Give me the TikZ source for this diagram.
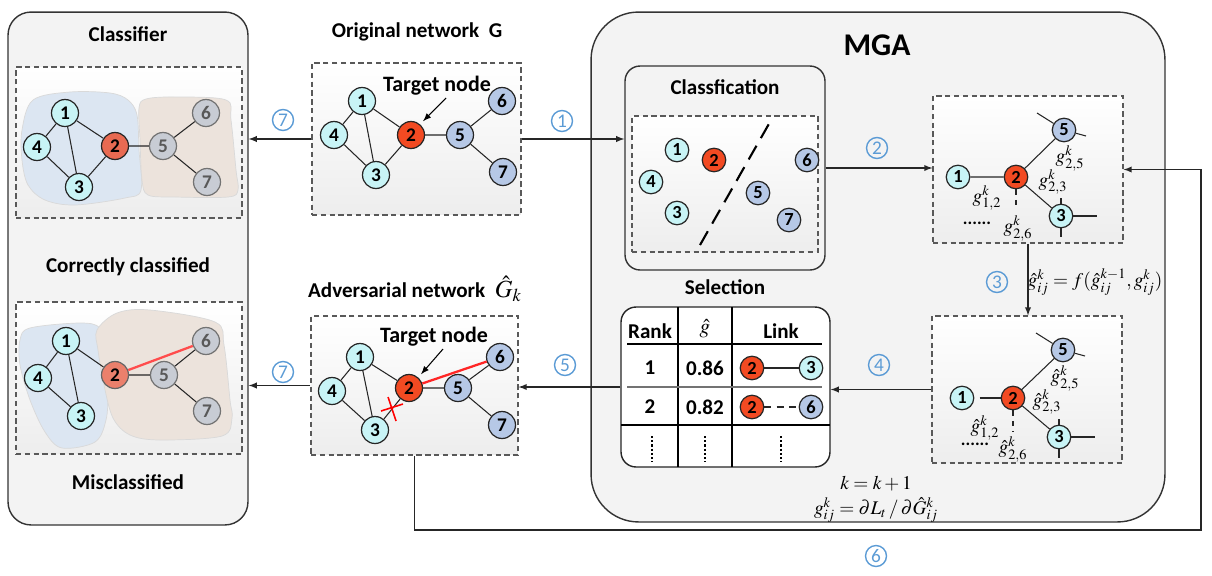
\documentclass[tikz,border=0pt]{standalone}
\usepackage[no-math]{fontspec}
\usepackage{mathptmx}
\setmainfont{Carlito}
\usetikzlibrary{positioning}

\definecolor{lightc}{HTML}{C8F4F6}
\definecolor{rednode}{HTML}{F24A22}
\definecolor{bluenode}{HTML}{B6C8E6}
\definecolor{graynode}{HTML}{C8CCD4}
\definecolor{salmon}{HTML}{E86A52}
\definecolor{blobblue}{HTML}{DCE6F2}
\definecolor{blobtan}{HTML}{ECE3DC}
\definecolor{panelfill}{HTML}{F3F3F3}
\definecolor{stepblue}{HTML}{5B9BD5}

\tikzset{
  vtx/.style={circle,draw=black!85,line width=0.7pt,minimum size=0.54cm,inner sep=0pt,
    font=\fontsize{11}{11}\selectfont\bfseries},
  smallv/.style={minimum size=0.47cm,font=\fontsize{10.5}{10.5}\selectfont\bfseries},
  grayv/.style={fill=graynode,text=black!65,draw=black!55},
  lnk/.style={line width=0.6pt,draw=black!85},
  redlnk/.style={line width=1.3pt,draw=red!85},
  panel/.style={rectangle,draw=black!80,line width=0.8pt,fill=panelfill},
  dashbox/.style={rectangle,draw=black!65,line width=0.7pt,dash pattern=on 3pt off 2pt,
    top color=white,bottom color=black!7},
  ttl/.style={font=\fontsize{12}{14}\selectfont\bfseries},
  stepno/.style={circle,draw=stepblue,text=stepblue,line width=0.8pt,inner sep=0pt,
    minimum size=0.42cm,font=\fontsize{11}{11}\selectfont},
  glabel/.style={font=\fontsize{11}{11}\selectfont},
  flow/.style={-latex,line width=0.6pt,draw=black!85}
}

\begin{document}
\begin{tikzpicture}[x=0.02cm,y=-0.02cm]
\useasboundingbox (0,0) rectangle (1212,575);

% panels and boxes
\node[panel,minimum width=4.8cm,minimum height=10.26cm,rounded corners=0.46cm] (clspanel) at (128,268.5) {};
\node[panel,minimum width=11.48cm,minimum height=10.2cm,rounded corners=0.95cm] (mgapanel) at (878,267) {};
\node[panel,minimum width=4cm,minimum height=4.08cm,rounded corners=0.3cm] (clfbox) at (725,168) {};
\node[dashbox,minimum width=4.52cm,minimum height=3.02cm] (topbox) at (129,142.5) {};
\node[dashbox,minimum width=4.52cm,minimum height=3.04cm] (botbox) at (129,378) {};
\node[dashbox,minimum width=4.18cm,minimum height=3.04cm] (origbox) at (416.5,139) {};
\node[dashbox,minimum width=4.14cm,minimum height=2.78cm] (advbox) at (414.5,385.5) {};
\node[dashbox,minimum width=3.72cm,minimum height=2.72cm] (scatbox) at (725,184) {};
\node[dashbox,minimum width=3.8cm,minimum height=2.94cm] (gradbox) at (1028,169.5) {};
\node[dashbox,minimum width=3.8cm,minimum height=2.94cm] (hatbox) at (1027,389.5) {};
\node[rectangle,draw=black!85,line width=0.8pt,fill=white,rounded corners=0.3cm,
  minimum width=4.18cm,minimum height=3.2cm] (seltab) at (725.5,387) {};

% titles
\node[ttl] (clstitle) at (128,34) {Classifier};
\node[ttl] (oktitle) at (128,267) {Correctly classified};
\node[ttl] (mistitle) at (128,482) {Misclassified};
\node[ttl] (origtitle) at (417,32) {Original network~~G};
\node[ttl] (advtitle) at (415,289) {Adversarial network~~{\fontsize{14}{14}\selectfont$\hat{G}_k$}};
\node[font=\fontsize{18}{18}\selectfont\bfseries] (mgatitle) at (877,45) {MGA};
\node[ttl] (clftitle) at (725,87) {Classfication};
\node[ttl] (seltitle) at (725,287) {Selection};

% community blobs
\fill[blobblue,draw=black!15] plot[smooth cycle,tension=0.55] coordinates {(22,130) (33,100) (70,92) (110,93) (128,100) (137,115) (139,150) (141,190) (125,198) (75,205) (45,200) (28,185) (22,160)};
\fill[blobtan,draw=black!15] plot[smooth cycle,tension=0.55] coordinates {(139,108) (146,99) (175,97) (226,100) (231,120) (236,170) (238,190) (228,197) (175,197) (148,195) (142,180) (140,140)};
\fill[blobblue,draw=black!15] plot[smooth cycle,tension=0.55] coordinates {(20,340) (30,328) (80,323) (100,328) (106,350) (108,390) (106,420) (95,442) (62,448) (45,432) (30,400) (20,365)};
\fill[blobtan,draw=black!15] plot[smooth cycle,tension=0.55] coordinates {(97,330) (117,313) (150,310) (215,322) (224,345) (230,400) (232,418) (222,436) (160,440) (130,435) (113,418) (104,385) (98,350)};

% classifier: correctly classified
\node[vtx,fill=lightc] (c1) at (65,113) {1};
\node[vtx,fill=lightc] (c4) at (37,147) {4};
\node[vtx,fill=lightc] (c3) at (79,187) {3};
\node[vtx,fill=salmon] (c2) at (115,146) {2};
\node[vtx,grayv] (c5) at (163,146) {5};
\node[vtx,grayv] (c6) at (206,113) {6};
\node[vtx,grayv] (c7) at (207,182) {7};
\draw[lnk] (c1)--(c4) (c1)--(c3) (c1)--(c2) (c4)--(c3) (c3)--(c2) (c2)--(c5) (c5)--(c6) (c5)--(c7);

% classifier: misclassified
\node[vtx,fill=lightc] (m1) at (66,341) {1};
\node[vtx,fill=lightc] (m4) at (38,378) {4};
\node[vtx,fill=lightc] (m3) at (81,416) {3};
\node[vtx,fill=salmon!85,draw=black!60] (m2) at (115,375) {2};
\node[vtx,grayv] (m5) at (164,375) {5};
\node[vtx,grayv] (m6) at (206,341) {6};
\node[vtx,grayv] (m7) at (207,411) {7};
\draw[lnk] (m1)--(m4) (m1)--(m3) (m1)--(m2) (m4)--(m3) (m2)--(m5) (m5)--(m6) (m5)--(m7);
\draw[redlnk,draw=red!70] (m2)--(m6);

% original network
\node[vtx,fill=lightc] (o1) at (362,101) {1};
\node[vtx,fill=lightc] (o4) at (334,135) {4};
\node[vtx,fill=lightc] (o3) at (376,175) {3};
\node[vtx,fill=rednode] (o2) at (411,135) {2};
\node[vtx,fill=bluenode] (o5) at (460,135) {5};
\node[vtx,fill=bluenode] (o6) at (502,101) {6};
\node[vtx,fill=bluenode] (o7) at (503,172) {7};
\draw[lnk] (o1)--(o4) (o1)--(o3) (o1)--(o2) (o4)--(o3) (o3)--(o2) (o2)--(o5) (o5)--(o6) (o5)--(o7);
\node[ttl,font=\fontsize{12.5}{14}\selectfont\bfseries] (tgt1) at (437,86) {Target node};
\draw[-latex,line width=0.6pt] ([shift={(9,12)}]tgt1.center) -- ([shift={(3,-3)}]o2.50);

% adversarial network
\node[vtx,fill=lightc] (a1) at (360,357) {1};
\node[vtx,fill=lightc] (a4) at (332,391) {4};
\node[vtx,fill=lightc] (a3) at (375,430) {3};
\node[vtx,fill=rednode] (a2) at (409,388) {2};
\node[vtx,fill=bluenode] (a5) at (458,388) {5};
\node[vtx,fill=bluenode] (a6) at (500,357) {6};
\node[vtx,fill=bluenode] (a7) at (502,425) {7};
\draw[lnk] (a1)--(a4) (a1)--(a3) (a1)--(a2) (a4)--(a3) (a3)--(a2) (a2)--(a5) (a5)--(a6) (a5)--(a7);
\draw[redlnk] (a2)--(a6);
\draw[red,line width=0.9pt] (381,411)--(403,404) (388,397)--(396,421);
\node[ttl,font=\fontsize{12.5}{14}\selectfont\bfseries] (tgt2) at (434,337) {Target node};
\draw[-latex,line width=0.6pt] ([shift={(9,12)}]tgt2.center) -- ([shift={(3,-3)}]a2.50);

% classification scatter
\node[vtx,smallv,fill=lightc] (s1) at (677,150) {1};
\node[vtx,smallv,fill=rednode] (s2) at (714,160) {2};
\node[vtx,smallv,fill=lightc] (s4) at (651,182) {4};
\node[vtx,smallv,fill=lightc] (s3) at (677,213) {3};
\node[vtx,smallv,fill=bluenode] (s5) at (758,193) {5};
\node[vtx,smallv,fill=bluenode] (s6) at (807,160) {6};
\node[vtx,smallv,fill=bluenode] (s7) at (789,220) {7};
\coordinate (cutlo) at (700,245);
\coordinate (cuthi) at (770,122);
\draw[line width=1.2pt,dash pattern=on 9pt off 5pt] (cutlo) -- (cuthi);

% gradient graph
\node[vtx,smallv,fill=lightc] (g1) at (958,177) {1};
\node[vtx,smallv,fill=rednode] (g2) at (1016,177) {2};
\node[vtx,smallv,fill=bluenode] (g5) at (1064,130) {5};
\node[vtx,smallv,fill=lightc] (g3) at (1061,216) {3};
\draw[lnk] (g1)--(g2) (g2)--(g5) (g2)--(g3);
\draw[lnk] (g5) -- +(-27,-17) (g5) -- +(22,6);
\draw[lnk] (g3) -- +(0,-18) (g3) -- +(0,21) (g3) -- +(36,0);
\draw[lnk,dashed] (g2) -- +(0,33);
\node[glabel] (g12) at (987,198) {$g^{k}_{1,2}$};
\node[glabel] (g25) at (1070,158) {$g^{k}_{2,5}$};
\node[glabel] (g23) at (1053,182) {$g^{k}_{2,3}$};
\node[glabel] (g26) at (1018,228) {$g^{k}_{2,6}$};
\node[font=\bfseries] (gdots) at (977,223) {......};

% accumulated gradient graph
\node[vtx,smallv,fill=lightc] (h1) at (962,398) {1};
\node[vtx,smallv,fill=rednode] (h2) at (1013,398) {2};
\node[vtx,smallv,fill=bluenode] (h5) at (1063,350) {5};
\node[vtx,smallv,fill=lightc] (h3) at (1059,437) {3};
\draw[lnk,shorten <=3pt] (h1)--(h2);
\draw[lnk] (h2)--(h5) (h2)--(h3);
\draw[lnk] (h5) -- +(-27,-17) (h5) -- +(22,6);
\draw[lnk] (h3) -- +(0,-18) (h3) -- +(0,21) (h3) -- +(36,0);
\draw[lnk,dashed] (h2) -- +(0,34);
\node[glabel] (h25) at (1065,378) {$\hat{g}^{k}_{2,5}$};
\node[glabel] (h23) at (1047,402) {$\hat{g}^{k}_{2,3}$};
\node[glabel] (h12) at (985,428) {$\hat{g}^{k}_{1,2}$};
\node[glabel] (h26) at (1013,449) {$\hat{g}^{k}_{2,6}$};
\node[font=\bfseries] (hdots) at (975,444) {......};

% selection table
\draw[line width=0.6pt] (678,307) -- (678,467) (732,307) -- (732,467);
\draw[line width=0.6pt] (627,344) -- (822,344);
\draw[line width=1.2pt,black!55] (627,387) -- (822,387);
\draw[line width=0.6pt] (621,425) -- (830,425);
\node[ttl] (hrank) at (650,331) {Rank};
\node[font=\fontsize{12}{12}\selectfont] (hg) at (705,329) {$\hat{g}$};
\node[ttl] (hlink) at (781,331) {Link};
\node[ttl] (r1) at (650,368) {1};
\node[ttl] (v1) at (705,368) {0.86};
\node[ttl] (r2) at (650,407) {2};
\node[ttl] (v2) at (705,407) {0.82};
\node[vtx,smallv,fill=rednode] (t1a) at (752,368) {2};
\node[vtx,smallv,fill=lightc] (t1b) at (811,368) {3};
\node[vtx,smallv,fill=rednode] (t2a) at (752,407) {2};
\node[vtx,smallv,fill=bluenode] (t2b) at (811,407) {6};
\draw[lnk] (t1a) -- (t1b);
\draw[lnk,dash pattern=on 4pt off 3pt] (t2a) -- (t2b);
\draw[line width=1.3pt,dash pattern=on 1.2pt off 1.2pt] (652,436) -- (652,462) (705,436) -- (705,462) (781,436) -- (781,462);

% formulas
\node[glabel] (upd) at (1095,282) {$\hat{g}^{k}_{ij}=f(\hat{g}^{k-1}_{ij},g^{k}_{ij})$};
\node[glabel] (kinc) at (876,484) {$k=k+1$};
\node[glabel] (gdef) at (876,510) {$g^{k}_{ij}=\partial L_t\,/\,\partial\hat{G}^{k}_{ij}$};

% flow arrows
\draw[flow] (origbox.west) -- (origbox.west -| clspanel.east);
\draw[flow] (origbox.east) -- (origbox.east -| clfbox.west);
\draw[flow] (clfbox.east) -- (clfbox.east -| gradbox.west);
\draw[flow] (gradbox.south) -- (gradbox.south |- hatbox.north);
\draw[flow] (hatbox.west) -- (hatbox.west -| seltab.east);
\draw[flow] (seltab.west) -- (seltab.west -| advbox.east);
\draw[flow] (advbox.west) -- (advbox.west -| clspanel.east);
\coordinate (loopc) at (1201,530);
\draw[flow] (advbox.south) |- (loopc) |- (gradbox.east);

% step numbers
\node[stepno] (st7a) at (283,120) {7};
\node[stepno] (st1) at (562,121) {1};
\node[stepno] (st2) at (877,148) {2};
\node[stepno] (st3) at (997,282) {3};
\node[stepno] (st4) at (879,365) {4};
\node[stepno] (st5) at (565,365) {5};
\node[stepno] (st7b) at (283,372) {7};
\node[stepno] (st6) at (876,556) {6};
\end{tikzpicture}
\end{document}
